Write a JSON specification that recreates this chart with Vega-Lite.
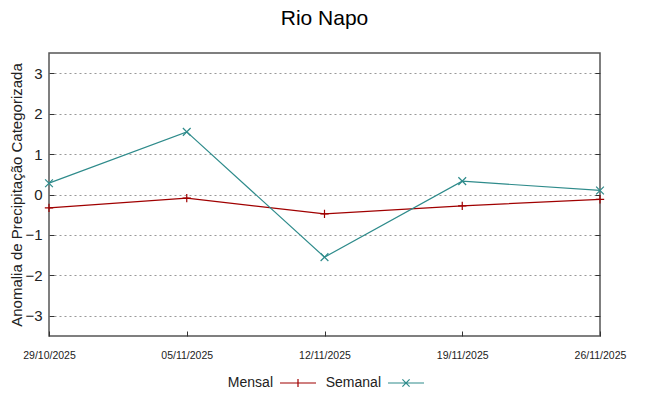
{
  "$schema": "https://vega.github.io/schema/vega-lite/v6.json",
  "autosize": "none",
  "width": 551,
  "height": 283,
  "padding": {"left": 49, "top": 53, "right": 48, "bottom": 60},
  "background": "white",
  "title": {"text": "Rio Napo", "fontSize": 21, "font": "Liberation Sans", "fontWeight": "normal", "color": "#000", "anchor": "middle", "offset": 24},
  "config": {
    "view": {"stroke": "#555", "strokeWidth": 1.5},
    "font": "Liberation Sans"
  },
  "data": {"values": [
    {"date": "2025-10-29", "serie": "Mensal", "value": -0.33},
    {"date": "2025-11-05", "serie": "Mensal", "value": -0.09},
    {"date": "2025-11-12", "serie": "Mensal", "value": -0.48},
    {"date": "2025-11-19", "serie": "Mensal", "value": -0.28},
    {"date": "2025-11-26", "serie": "Mensal", "value": -0.12},
    {"date": "2025-10-29", "serie": "Semanal", "value": 0.28},
    {"date": "2025-11-05", "serie": "Semanal", "value": 1.55},
    {"date": "2025-11-12", "serie": "Semanal", "value": -1.55},
    {"date": "2025-11-19", "serie": "Semanal", "value": 0.33},
    {"date": "2025-11-26", "serie": "Semanal", "value": 0.1}
  ]},
  "encoding": {
    "x": {"field": "date", "type": "temporal",
      "scale": {"type": "utc", "domain": [{"year": 2025, "month": 10, "date": 29, "utc": true}, {"year": 2025, "month": 11, "date": 26, "utc": true}]},
      "axis": {"title": null, "labelExpr": "utcFormat(datum.value, '%d/%m/%Y')", "grid": false, "domain": false,
        "values": [{"year": 2025, "month": 10, "date": 29, "utc": true}, {"year": 2025, "month": 11, "date": 5, "utc": true}, {"year": 2025, "month": 11, "date": 12, "utc": true}, {"year": 2025, "month": 11, "date": 19, "utc": true}, {"year": 2025, "month": 11, "date": 26, "utc": true}],
        "tickSize": -5, "tickColor": "#333", "labelPadding": 19, "labelFont": "Liberation Sans", "labelFontSize": 10.5, "labelColor": "#222", "labelFlush": false}
    },
    "y": {"field": "value", "type": "quantitative",
      "scale": {"domain": [-3.5, 3.5], "nice": false, "zero": false}
    },
    "color": {"field": "serie", "type": "nominal",
      "scale": {"domain": ["Mensal", "Semanal"], "range": ["#a00000", "#2e8b8b"]},
      "legend": {"title": null, "orient": "none", "legendX": 230, "legendY": 311, "direction": "horizontal", "labelFontSize": 14, "labelColor": "#222",
        "labelAlign": "right", "labelOffset": -44, "symbolSize": 1296, "symbolStrokeWidth": 1.2, "symbolFillColor": "transparent", "columnPadding": 6,
        "encode": {"symbols": {"update": {"shape": {"signal": "datum.value === 'Mensal' ? 'M-1,0H1M0,-0.22V0.22' : 'M-1,0H1M-0.2,-0.2L0.2,0.2M-0.2,0.2L0.2,-0.2'"}}}}}
    }
  },
  "layer": [
    {"mark": {"type": "line", "strokeWidth": 1.2},
     "encoding": {"y": {"field": "value", "type": "quantitative", "axis": {"title": "Anomalia de Precipitação Categorizada", "titleFontSize": 15, "titleFontWeight": "normal", "titleColor": "#222", "titlePadding": 0, "values": [-3, -2, -1, 0, 1, 2, 3], "grid": true, "gridDash": [2, 3], "gridColor": "#999", "domain": false, "tickSize": -5, "tickColor": "#333", "labelPadding": 12, "labelFontSize": 15, "labelColor": "#222", "labelFlush": false}}}},
    {"transform": [{"filter": "datum.serie === 'Mensal'"}],
     "mark": {"type": "point", "filled": false, "size": 70, "strokeWidth": 1.2, "opacity": 1, "shape": "M-1,0H1M0,-1V1"},
     "encoding": {
       "y": {"field": "value", "type": "quantitative", "axis": {"orient": "right", "title": null, "labels": false, "grid": false, "domain": false, "values": [-3, -2, -1, 0, 1, 2, 3], "tickSize": -5, "tickColor": "#333"}}
     }},
    {"transform": [{"filter": "datum.serie === 'Semanal'"}],
     "mark": {"type": "point", "filled": false, "size": 60, "strokeWidth": 1.2, "opacity": 1, "shape": "M-1,-1L1,1M-1,1L1,-1"},
     "encoding": {
       "y": {"field": "value", "type": "quantitative", "axis": null}
     }}
  ],
  "resolve": {"axis": {"y": "independent"}}
}
